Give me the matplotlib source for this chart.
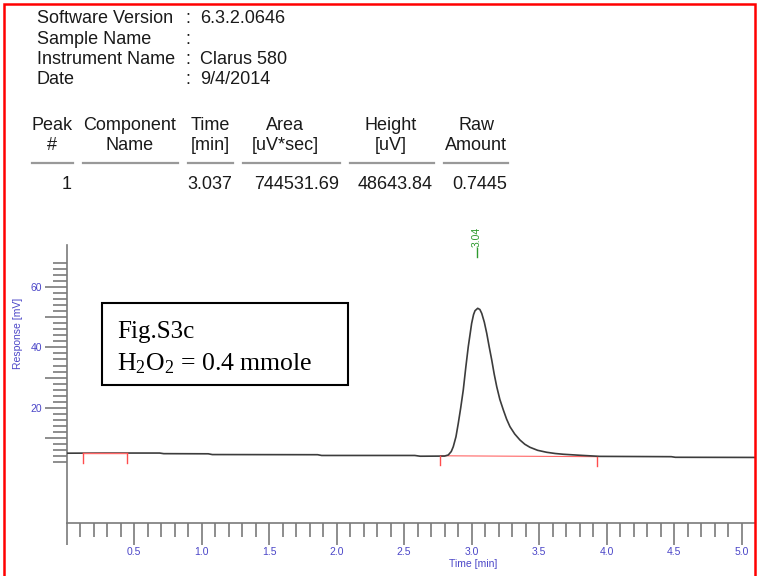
import numpy as np
import matplotlib
matplotlib.use('Agg')
import matplotlib.pyplot as plt
from matplotlib.ticker import FixedLocator, FixedFormatter
from matplotlib.patches import Rectangle

plt.rcParams['font.family'] = ['Liberation Sans', 'DejaVu Sans']
plt.rcParams['mathtext.fontset'] = 'custom'
plt.rcParams['mathtext.rm'] = 'Liberation Serif'
plt.rcParams['mathtext.it'] = 'Liberation Serif:italic'

# header info
info_keys = ['Software Version', 'Sample Name', 'Instrument Name', 'Date']
info_vals = ['6.3.2.0646', '', 'Clarus 580', '9/4/2014']

# peak table
col_head1 = ['Peak', 'Component', 'Time', 'Area', 'Height', 'Raw']
col_head2 = ['#', 'Name', '[min]', '[uV*sec]', '[uV]', 'Amount']
row_vals = ['1', '', '3.037', '744531.69', '48643.84', '0.7445']

# chromatogram trace (time in min, response in mV)
time_min = [0.00, 0.30, 0.69, 0.72, 1.05, 1.08, 1.86, 1.89, 2.58, 2.62, 2.80,
            2.828, 2.850, 2.865, 2.885, 2.902, 2.920, 2.939, 2.958, 2.976, 2.990,
            3.001, 3.015, 3.026, 3.046, 3.062, 3.076, 3.095, 3.113, 3.131, 3.150,
            3.168, 3.187, 3.210, 3.236, 3.260, 3.285, 3.320, 3.359, 3.395, 3.433,
            3.490, 3.557, 3.620, 3.680, 3.804, 3.95, 4.48, 4.51, 5.10]
response = [5.05, 5.10, 5.10, 4.90, 4.85, 4.60, 4.55, 4.30, 4.30, 4.05, 4.10,
            4.46, 5.6, 7.2, 10.5, 14.9, 20.0, 25.9, 33.5, 40.2, 44.5,
            47.9, 50.8, 52.1, 52.9, 52.5, 51.2, 48.3, 44.6, 40.2, 35.8,
            31.2, 27.0, 22.8, 19.3, 16.3, 13.8, 11.4, 9.4, 8.0, 7.0,
            6.0, 5.35, 4.95, 4.7, 4.36, 4.0, 3.9, 3.7, 3.65]

# integration events
peak_start, peak_end = 2.77, 3.93
peak_base = [4.2, 3.9]
event2_start, event2_end = 0.125, 0.45
event2_base = [5.15, 5.15]
peak_rt = 3.04

W, H = 758, 576
def fx(x):
    return x / W
def fy(y):
    return 1 - y / H

txt = '#1a1a1a'
blue = '#4b46c8'
gray = '#7a7a7a'
hsize = 13

fig = plt.figure(figsize=(W / 100, H / 100), dpi=100)

# ---- header text ----
for i, (k, v) in enumerate(zip(info_keys, info_vals)):
    yb = 23 + i * 20.5
    fig.text(fx(37), fy(yb), k, fontsize=hsize, color=txt, va='baseline')
    fig.text(fx(185), fy(yb), ':', fontsize=hsize, color=txt, va='baseline')
    fig.text(fx(200), fy(yb), v, fontsize=hsize, color=txt, va='baseline')

centers = [52, 130, 210, 285, 391, 476]
lines = [(32, 73), (83, 178), (188, 233), (243, 340), (350, 434), (444, 508)]
for c, h1, h2, (l0, l1), v in zip(centers, col_head1, col_head2, lines, row_vals):
    fig.text(fx(c), fy(129.5), h1, fontsize=hsize, color=txt, ha='center', va='baseline')
    fig.text(fx(c), fy(150), h2, fontsize=hsize, color=txt, ha='center', va='baseline')
    fig.add_artist(plt.Line2D([fx(l0), fx(l1)], [fy(163), fy(163)], color='#999999', lw=1.6))
    fig.text(fx(l1 - 1), fy(189), v, fontsize=hsize, color=txt, ha='right', va='baseline')

# ---- chromatogram ----
ax = fig.add_axes([fx(66.5), fy(523), fx(755) - fx(66.5), fy(245) - fy(523)])
ax.set_xlim(0, 5.1)
ax.set_ylim(-18, 73.8)

ax.plot(time_min, response, color='#3c3c3c', lw=1.2, zorder=3)

# integration baselines and event marks
ax.plot([peak_start, peak_end], peak_base, color='#ff6666', lw=0.8, zorder=2)
ax.plot([event2_start, event2_end], event2_base, color='#ff6666', lw=1.0, zorder=4)
for t, b in [(peak_start, peak_base[0]), (peak_end, peak_base[1]),
             (event2_start, event2_base[0]), (event2_end, event2_base[1])]:
    ax.plot([t, t], [b, b - 3.2], color='#ff4d4d', lw=1.0, zorder=4)

# retention time label
ax.plot([peak_rt, peak_rt], [69.9, 72.9], color='#2e9a2e', lw=1.0, clip_on=False)
ax.text(peak_rt, 73.0, '3.04', rotation=90, ha='center', va='bottom', color='#2e9a2e',
        fontsize=7.5, clip_on=False)

for s in ['top', 'right']:
    ax.spines[s].set_visible(False)
ax.spines['left'].set_color(gray)
ax.spines['bottom'].set_color(gray)
ax.spines['left'].set_linewidth(1.2)
ax.spines['bottom'].set_linewidth(1.2)

y_major = [10, 20, 30, 40, 50, 60]
y_labels = ['', '20', '', '40', '', '60']
ax.yaxis.set_major_locator(FixedLocator(y_major))
ax.yaxis.set_major_formatter(FixedFormatter(y_labels))
ax.yaxis.set_minor_locator(FixedLocator([v for v in range(2, 70, 2) if v % 10]))

x_major = [i * 0.5 for i in range(11)]
x_labels = [''] + ['%.1f' % v for v in x_major[1:]]
ax.xaxis.set_major_locator(FixedLocator(x_major))
ax.xaxis.set_major_formatter(FixedFormatter(x_labels))
ax.xaxis.set_minor_locator(FixedLocator([i / 10 for i in range(1, 51) if i % 5]))

ax.tick_params(axis='both', which='major', length=16, width=1.2, color=gray,
               labelcolor=blue, labelsize=7.5, pad=1.5)
ax.tick_params(axis='both', which='minor', length=10, width=1.2, color=gray)

fig.text(fx(473), fy(564), 'Time [min]', fontsize=7.5, color=blue, ha='center', va='center')
fig.text(fx(18), fy(333), 'Response [mV]', fontsize=7.5, color=blue, ha='center', va='center',
         rotation=90)

# annotation box
fig.add_artist(Rectangle((fx(101.7), fy(385)), fx(348) - fx(101.7), fy(302.7) - fy(385),
                         transform=fig.transFigure, fill=False, ec='black', lw=1.5))
fig.text(fx(117), fy(338.3), 'Fig.S3c', fontsize=18, family='Liberation Serif',
         va='baseline', color='black')
fig.text(fx(117), fy(370), r'H$_2$O$_2$ = 0.4 mmole', fontsize=18.5, family='Liberation Serif',
         va='baseline', color='black')

# red frame
fig.add_artist(Rectangle((fx(3.5), fy(590)), fx(755) - fx(3.5), fy(4) - fy(590),
                         transform=fig.transFigure, fill=False, ec='red', lw=1.8, clip_on=False))

fig.savefig('out.png', dpi=100)
